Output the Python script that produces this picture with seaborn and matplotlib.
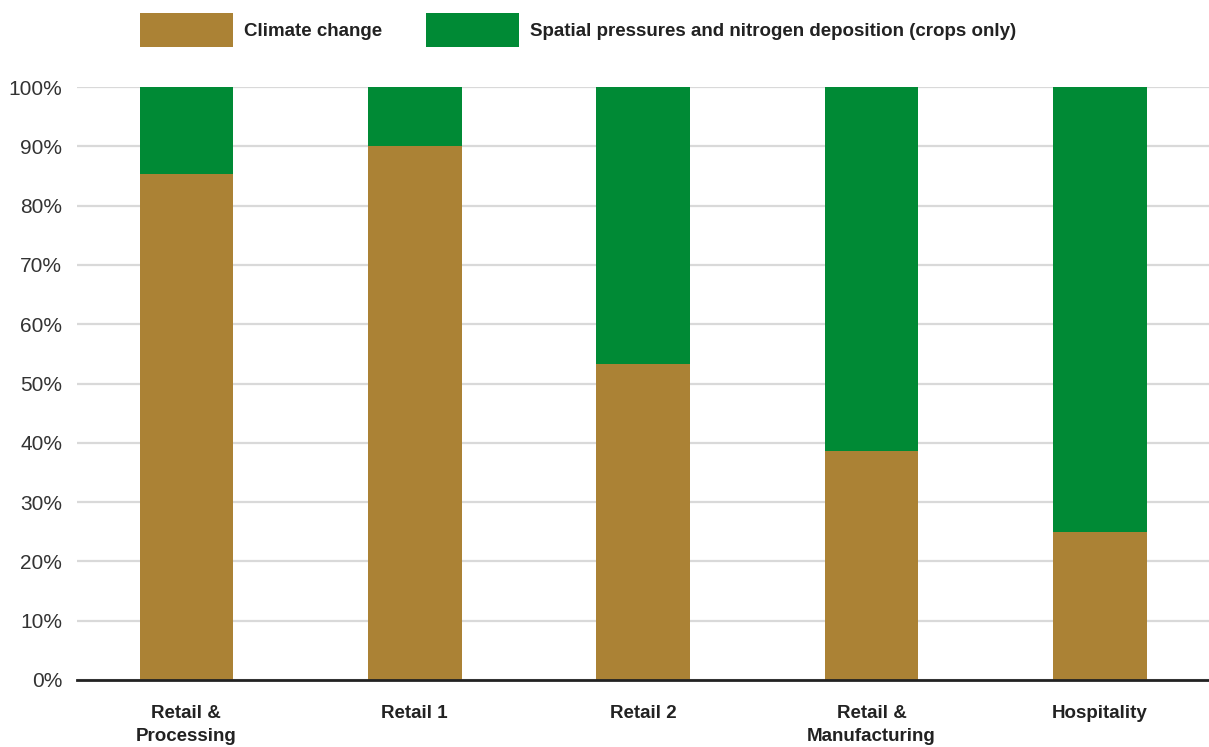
import numpy as np
import pandas as pd
import matplotlib
matplotlib.use("Agg")
import matplotlib.pyplot as plt
from matplotlib.patches import Patch
import seaborn as sns

categories = ["Retail &\nProcessing", "Retail 1", "Retail 2", "Retail &\nManufacturing", "Hospitality"]
climate_change = [85.3, 90.0, 53.3, 38.6, 25.0]
spatial_nitrogen = [100 - v for v in climate_change]
series_names = ["Climate change", "Spatial pressures and nitrogen deposition (crops only)"]
y_ticks = [0, 10, 20, 30, 40, 50, 60, 70, 80, 90, 100]

BROWN = "#AB8235"
GREEN = "#008A35"

sns.set_theme(style="white")
plt.rcParams["font.family"] = ["Liberation Sans", "DejaVu Sans"]
label_font = {"family": ["Liberation Sans", "DejaVu Sans"], "weight": "bold", "size": 13.5}

df = pd.DataFrame({
    "category": categories,
    "climate": climate_change,
    "total": np.array(climate_change) + np.array(spatial_nitrogen),
})

fig = plt.figure(figsize=(12.09, 7.47), dpi=100)
ax = fig.add_axes([0.064, 0.0897, 0.936, 0.7938])

# stacked: full height in green, climate share drawn over it
sns.barplot(data=df, x="category", y="total", color=GREEN, width=0.41,
            saturation=1, linewidth=0, ax=ax, zorder=3)
sns.barplot(data=df, x="category", y="climate", color=BROWN, width=0.41,
            saturation=1, linewidth=0, ax=ax, zorder=4)

ax.set_xlim(-0.477, 4.477)
ax.set_ylim(0, 100)
ax.set_yticks(y_ticks)
ax.set_yticklabels([f"{t}%" for t in y_ticks], fontsize=15, color="#333333")
ax.set_xticks(range(len(categories)))
ax.set_xticklabels(categories, fontdict=label_font, color="#222222", va="top", linespacing=1.45)
ax.tick_params(axis="x", length=0, pad=18)
ax.tick_params(axis="y", length=0, pad=11)
ax.set_xlabel("")
ax.set_ylabel("")
ax.grid(axis="y", color="#d9d9d9", linewidth=1.6, zorder=0)
for s in ["top", "right", "left"]:
    ax.spines[s].set_visible(False)
ax.spines["bottom"].set_color("#222222")
ax.spines["bottom"].set_linewidth(2)
ax.spines["bottom"].set_zorder(5)

handles = [Patch(facecolor=BROWN, edgecolor="none"), Patch(facecolor=GREEN, edgecolor="none")]
leg = fig.legend(handles, series_names, loc="upper left", bbox_to_anchor=(140 / 1209, 1 - 13 / 747),
                 ncol=2, frameon=False, handlelength=4.96, handleheight=2.42,
                 handletextpad=0.59, columnspacing=2.35, borderpad=0, borderaxespad=0,
                 prop=label_font)
for t in leg.get_texts():
    t.set_color("#222222")

fig.savefig("out.png", dpi=100)
